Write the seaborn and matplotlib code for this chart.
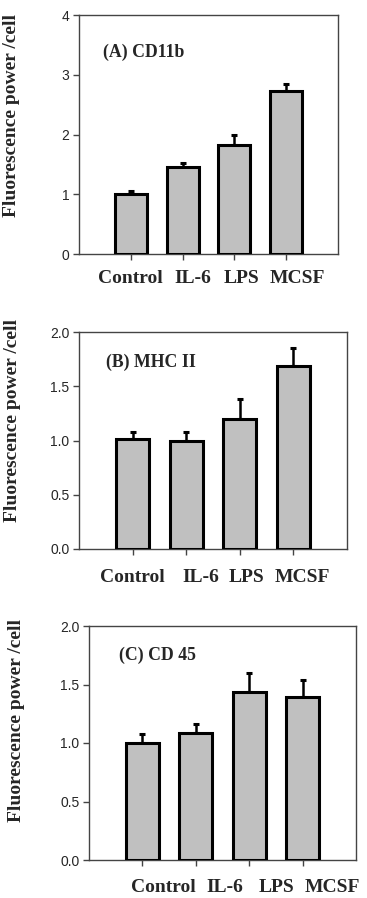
import numpy as np
import pandas as pd
import matplotlib
matplotlib.use("Agg")
import matplotlib.pyplot as plt
import matplotlib.transforms as mtransforms
import seaborn as sns

categories = ["Control", "IL-6", "LPS", "MCSF"]

cd11b_values = [1.00, 1.45, 1.83, 2.73]
cd11b_errors = [0.06, 0.07, 0.17, 0.12]

mhc2_values = [1.01, 1.00, 1.20, 1.69]
mhc2_errors = [0.07, 0.08, 0.18, 0.16]

cd45_values = [1.00, 1.085, 1.44, 1.39]
cd45_errors = [0.08, 0.075, 0.16, 0.15]

titles = ["(A) CD11b", "(B) MHC II", "(C) CD 45"]
ylims = [4, 2.0, 2.0]
yticks = [[0, 1, 2, 3, 4], [0.0, 0.5, 1.0, 1.5, 2.0], [0.0, 0.5, 1.0, 1.5, 2.0]]
yticklabels = [["0", "1", "2", "3", "4"],
               ["0.0", "0.5", "1.0", "1.5", "2.0"],
               ["0.0", "0.5", "1.0", "1.5", "2.0"]]
ylabel = "Fluorescence power /cell"

sns.set_style("white")
plt.rcParams["font.family"] = ["Liberation Serif", "DejaVu Serif"]

W, H = 367, 898
fig = plt.figure(figsize=(W / 100, H / 100), dpi=100)

# axes boxes in pixels: left, top, right, bottom
boxes = [(79, 15, 338, 254), (79, 332, 347, 549), (89, 626, 356, 860)]
label_offsets = [[0, 10, 7, 11], [0, 15, 7, 9], [21, 29, 27, 30]]
label_drop = [24, 28, 27]
title_pos = [(0.093, 0.845), (0.10, 0.862), (0.112, 0.876)]
ylabel_pos = [(-0.228, 0.58), (-0.216, 0.594), (-0.24, 0.598)]

data = [(cd11b_values, cd11b_errors), (mhc2_values, mhc2_errors), (cd45_values, cd45_errors)]
spine_col = "#444444"

for i, (vals, errs) in enumerate(data):
    l, t, r, b = boxes[i]
    ax = fig.add_axes([l / W, 1 - b / H, (r - l) / W, (b - t) / H])
    df = pd.DataFrame({"cat": categories, "val": vals})
    sns.barplot(data=df, x="cat", y="val", color="#c0c0c0", saturation=1,
                edgecolor="black", linewidth=2.2, width=0.62, errorbar=None,
                ax=ax, zorder=3)
    xs = np.arange(len(categories))
    ax.errorbar(xs, vals, yerr=[np.zeros(len(vals)), errs], fmt="none",
                ecolor="black", elinewidth=1.8, capsize=2.5, capthick=2.2, zorder=2)
    ax.set_xlim(-1, 4)
    ax.set_ylim(0, ylims[i])
    ax.set_yticks(yticks[i])
    ax.set_yticklabels(yticklabels[i], family=["Liberation Sans"], fontsize=10)
    ax.set_xticks(xs)
    ax.set_xticklabels([])
    for s in ax.spines.values():
        s.set_color(spine_col)
        s.set_linewidth(1.0)
        s.set_visible(True)
    ax.tick_params(axis="both", direction="out", length=4, width=1.0,
                   color=spine_col, left=True, bottom=True, pad=3)
    ax.set_xlabel("")
    ax.set_ylabel(ylabel, fontsize=14, fontweight="bold")
    ax.yaxis.set_label_coords(*ylabel_pos[i])
    ax.text(title_pos[i][0], title_pos[i][1], titles[i], transform=ax.transAxes,
            fontsize=12.8, fontweight="bold", ha="left", va="center")
    for j, c in enumerate(categories):
        tr = mtransforms.offset_copy(ax.get_xaxis_transform(), fig=fig,
                                     x=label_offsets[i][j] * 0.72,
                                     y=-label_drop[i] * 0.72, units="points")
        ax.text(j, 0, c, transform=tr, ha="center", va="center",
                fontsize=14, fontweight="bold")

fig.savefig("out.png", dpi=100)
